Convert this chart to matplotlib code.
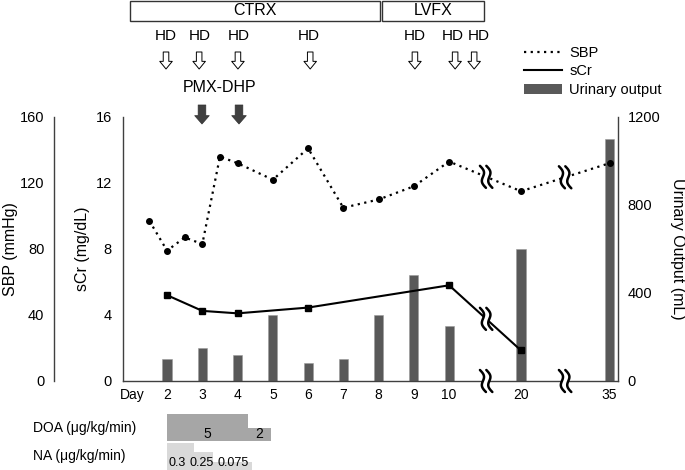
import numpy as np
import matplotlib
matplotlib.use('Agg')
import matplotlib.pyplot as plt
import matplotlib.transforms as mtransforms
from matplotlib.patches import Rectangle, Patch
from matplotlib.lines import Line2D

plt.rcParams['font.family'] = ['Liberation Sans', 'DejaVu Sans']
plt.rcParams['font.size'] = 10

# ---- data ----
sbp_days = [1.5, 2, 2.5, 3, 3.5, 4, 5, 6, 7, 8, 9, 10, 20, 35]
sbp_vals = [97, 79, 87, 83, 136, 132, 122, 141, 105, 110, 118, 133, 115, 132]
scr_days = [2, 3, 4, 6, 10, 20]
scr_vals = [5.2, 4.25, 4.1, 4.45, 5.8, 1.85]
uo_days = [2, 3, 4, 5, 6, 7, 8, 9, 10, 20, 35]
uo_vals = [100, 150, 120, 300, 80, 100, 300, 480, 250, 600, 1100]
tick_days = [1, 2, 3, 4, 5, 6, 7, 8, 9, 10, 20, 35]
tick_labels = ['Day', '2', '3', '4', '5', '6', '7', '8', '9', '10', '20', '35']

hd_labels = ['HD'] * 7
doa_doses = ['5', '2']
doa_from = [2, 4.3]
doa_to = [4.3, 4.95]
na_doses = ['0.3', '0.25', '0.075']
na_from = [2, 2.75, 3.3]
na_to = [2.75, 3.3, 4.4]


# broken day axis: days 1..10 evenly spaced, then compressed gaps to 20 and 35
def xpos(d):
    return np.interp(d, [1, 10, 20, 35], [0, 9, 11.04, 13.55])


W, H = 685, 470
fig = plt.figure(figsize=(W / 100, H / 100), dpi=100)
ax = fig.add_axes([123 / W, 1 - 381 / H, 495 / W, 264 / H])
ax_u = ax.twinx()
ax_s = ax.twinx()
ax_u.set_zorder(1)
ax.set_zorder(2)
ax_s.set_zorder(3)
ax.patch.set_visible(False)
ax_s.patch.set_visible(False)

spine_c = '#404040'

# bars (urinary output)
ax_u.bar(xpos(uo_days), uo_vals, width=0.26, color='#595959', edgecolor='#9a9a9a', linewidth=0.4)
ax_u.set_ylim(0, 1200)
ax_u.set_yticks([0, 400, 800, 1200])

# sCr
ax.plot(xpos(scr_days), scr_vals, color='black', lw=1.5, marker='s', ms=5, zorder=3)
ax.set_ylim(0, 16)
ax.set_yticks([0, 4, 8, 12, 16])
ax.set_xlim(-0.25, 13.79)
ax.set_xticks(xpos(tick_days))
ax.set_xticklabels(tick_labels)

# SBP
ax_s.plot(xpos(sbp_days), sbp_vals, color='black', lw=1.6, ls=(0, (1, 2)),
          marker='o', ms=4, zorder=3)
ax_s.set_ylim(0, 160)
ax_s.set_yticks([0, 40, 80, 120, 160])

for a in (ax, ax_u, ax_s):
    for s in a.spines.values():
        s.set_visible(False)
        s.set_color(spine_c)
        s.set_linewidth(1)
    a.tick_params(length=0, labelsize=10.5)

ax.spines['left'].set_visible(True)
ax.spines['bottom'].set_visible(True)
ax.tick_params(axis='y', pad=8)
ax.tick_params(axis='x', pad=5, labelsize=10)
ax_u.spines['right'].set_visible(True)
ax_u.tick_params(axis='y', pad=7)
ax_s.spines['left'].set_visible(True)
ax_s.spines['left'].set_position(('outward', 69 * 0.72))
ax_s.yaxis.set_ticks_position('left')
ax_s.tick_params(axis='y', pad=7)

# axis titles
fig.text(11 / W, 1 - 249 / H, 'SBP (mmHg)', rotation=90, ha='center', va='center', fontsize=11.5)
fig.text(83 / W, 1 - 249 / H, 'sCr (mg/dL)', rotation=90, ha='center', va='center', fontsize=11.5)
fig.text(677 / W, 1 - 249 / H, 'Urinary Output (mL)', rotation=270, ha='center', va='center', fontsize=11.5)


# break marks
def break_mark(a, x, y):
    tr = fig.dpi_scale_trans + mtransforms.ScaledTranslation(x, y, a.transData)
    u = np.linspace(0, 1, 40)
    yy = (11 - 22 * u) / 100
    curves = []
    for dx in (-3.2, 3.2):
        xx = (dx - 3 + 6 * u + 2.4 * np.sin(2 * np.pi * u)) / 100
        curves.append(xx)
    px = np.concatenate([curves[0], curves[1][::-1]])
    py = np.concatenate([yy, yy[::-1]])
    a.fill(px, py, color='white', transform=tr, zorder=10, clip_on=False, lw=0)
    for xx in curves:
        a.plot(xx, yy, color='black', lw=1.8, transform=tr, zorder=11,
               clip_on=False, solid_capstyle='round')


b1, b2 = 10.05, 12.29
for bx in (b1, b2):
    break_mark(ax, bx, 0)
    break_mark(ax_s, bx, np.interp(bx, xpos(sbp_days), sbp_vals))
break_mark(ax, b1, np.interp(b1, xpos(scr_days), scr_vals))

# top annotations
top = mtransforms.blended_transform_factory(ax.transData, fig.transFigure)


def fy(p):
    return 1 - p / H


for x0, x1, name in [(-0.05, 7.04, 'CTRX'), (7.1, 10.0, 'LVFX')]:
    ax.add_patch(Rectangle((x0, fy(21)), x1 - x0, 20.5 / H, transform=top, fill=False,
                           ec='#333333', lw=1, clip_on=False))
    ax.text((x0 + x1) / 2, fy(10.5), name, transform=top, ha='center', va='center', fontsize=11.5)

hd_text_x = [0.97, 1.94, 3.04, 5.03, 8.03, 9.11, 9.85]
hd_arrow_x = [0.97, 1.91, 3.01, 5.06, 8.03, 9.17, 9.71]
for tx, lab in zip(hd_text_x, hd_labels):
    ax.text(tx, fy(36), lab, transform=top, ha='center', va='center', fontsize=11)
for axx in hd_arrow_x:
    ax.annotate('', xy=(axx, fy(69)), xycoords=top, xytext=(axx, fy(52)), textcoords=top,
                arrowprops=dict(arrowstyle='simple,head_length=0.55,head_width=0.9,tail_width=0.4',
                                fc='white', ec='black', lw=0.7, shrinkA=0, shrinkB=0,
                                mutation_scale=10), annotation_clip=False)

ax.text(2.5, fy(88), 'PMX-DHP', transform=top, ha='center', va='center', fontsize=11.5)
for axx in [1.99, 3.04]:
    ax.annotate('', xy=(axx, fy(124)), xycoords=top, xytext=(axx, fy(105)), textcoords=top,
                arrowprops=dict(arrowstyle='simple,head_length=0.6,head_width=1.05,tail_width=0.55',
                                fc='#404040', ec='#303030', lw=0.5, shrinkA=0, shrinkB=0,
                                mutation_scale=10), annotation_clip=False)

# legend
handles = [Line2D([], [], color='black', lw=1.6, ls=(0, (1, 2))),
           Line2D([], [], color='black', lw=1.5),
           Patch(facecolor='#595959')]
fig.legend(handles, ['SBP', 'sCr', 'Urinary output'], loc='upper left',
           bbox_to_anchor=(524 / W, fy(46)), frameon=False, handlelength=2.6,
           handletextpad=0.5, labelspacing=0.3, borderpad=0, borderaxespad=0, fontsize=10.5)

# vasopressor rows
fig.text(33 / W, fy(428), 'DOA (\u03bcg/kg/min)', ha='left', va='center', fontsize=10)
fig.text(33 / W, fy(456), 'NA (\u03bcg/kg/min)', ha='left', va='center', fontsize=10)

doa_h = [27, 13]
for f, t, h, lab in zip(doa_from, doa_to, doa_h, doa_doses):
    x0, x1 = xpos(f), xpos(t)
    ax.add_patch(Rectangle((x0, fy(441)), x1 - x0, h / H, transform=top, color='#a6a6a6',
                           lw=0, clip_on=False))
    ax.text((x0 + x1) / 2, fy(434), lab, transform=top, ha='center', va='center', fontsize=10)

na_h = [27, 18, 8]
na_label_x = [1.03, 1.65, 2.42]
for f, t, h, lab, lx in zip(na_from, na_to, na_h, na_doses, na_label_x):
    x0, x1 = xpos(f), xpos(t)
    ax.add_patch(Rectangle((x0, fy(470)), x1 - x0, h / H, transform=top, color='#d9d9d9',
                           lw=0, clip_on=False))
    ax.text(lx, fy(463), lab, transform=top, ha='left', va='center', fontsize=9)

fig.savefig('out.png', dpi=100)
